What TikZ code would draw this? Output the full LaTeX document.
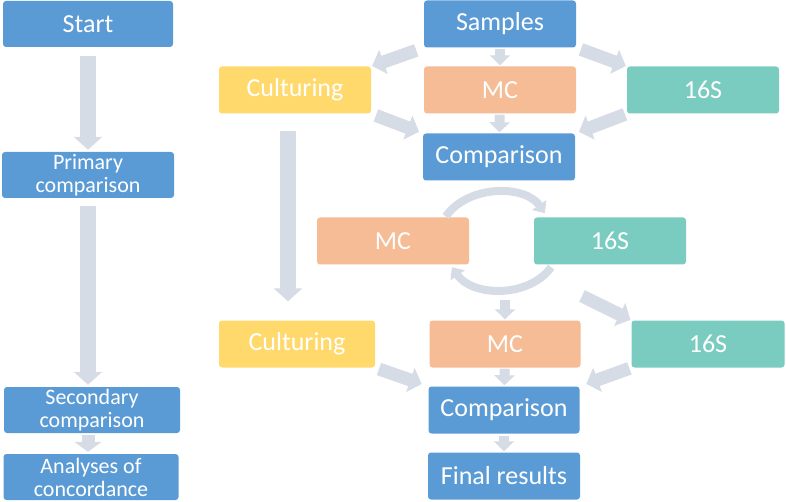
\documentclass[tikz,border=0pt]{standalone}
\usepackage{fontspec}
\setmainfont{Carlito}
\usetikzlibrary{arrows.meta}

\definecolor{boxblue}{HTML}{5B9BD5}
\definecolor{boxorange}{HTML}{F5BC95}
\definecolor{boxteal}{HTML}{7ACCC0}
\definecolor{boxyellow}{HTML}{FFD96C}
\definecolor{arrowgray}{HTML}{D6DCE5}

\begin{document}
\begin{tikzpicture}[x=1pt,y=-1pt]
	\tikzstyle{box} = [rectangle, rounded corners=3pt, minimum width=152pt, minimum height=47pt, inner sep=0pt, text=white, align=center, font=\fontsize{26}{28}\selectfont]
	\tikzstyle{side_box} = [box, fill=boxblue, minimum width=172pt, minimum height=46pt, font=\fontsize{22}{23}\selectfont]
	\tikzstyle{fat_arrow} = [draw=arrowgray, line width=16pt, -{Triangle[length=13pt,width=28pt]}]
	\tikzstyle{diag_arrow} = [draw=arrowgray, line width=13pt, -{Triangle[length=12pt,width=25pt]}]
	\tikzstyle{small_arrow} = [draw=arrowgray, line width=10pt, -{Triangle[length=10pt,width=20pt]}]
	\tikzstyle{curve_arrow} = [draw=arrowgray, line width=8pt, -{Triangle[length=10pt,width=17pt]}]

	\useasboundingbox (0,0) rectangle (786,502);

	% Left column
	\node (S) [side_box, minimum width=170pt, font=\fontsize{26}{28}\selectfont] at (88,24) {Start};
	\node (PC) [side_box] at (88,175) {Primary\\comparison};
	\node (SC) [side_box, minimum width=176pt] at (92,410) {Secondary\\comparison};
	\node (AC) [side_box, minimum width=175pt] at (91,477) {Analyses of\\concordance};

	% First round
	\node (SA) [box, fill=boxblue] at (500,24) {Samples};
	\node (CU1) [box, fill=boxyellow] at (295,90) {Culturing};
	\node (MC1) [box, fill=boxorange] at (500,90) {MC};
	\node (RS1) [box, fill=boxteal] at (703,90) {16S};
	\node (CO1) [box, fill=boxblue] at (499,157) {Comparison};

	% Discordant samples
	\node (MC2) [box, fill=boxorange] at (393,241) {MC};
	\node (RS2) [box, fill=boxteal] at (610,241) {16S};
	\coordinate (L1) at (505,300);
	\coordinate (L2) at (582,296);

	% Second round
	\node (CU2) [box, fill=boxyellow, minimum width=156pt] at (297,344) {Culturing};
	\node (MC3) [box, fill=boxorange, minimum width=151pt] at (505,344) {MC};
	\node (RS3) [box, fill=boxteal, minimum width=153pt] at (708,344) {16S};
	\node (CO2) [box, fill=boxblue, minimum width=151pt] at (504,410) {Comparison};
	\node (FR) [box, fill=boxblue] at (504,476) {Final results};

	% Arrows of the left column
	\draw[fat_arrow, shorten <=9pt, shorten >=2pt] (S) -- (PC);
	\draw[fat_arrow, shorten <=8pt, shorten >=2pt] (PC) -- (PC |- SC.north);
	\draw[small_arrow, line width=13pt, -{Triangle[length=10pt,width=27pt]}, shorten <=2pt, shorten >=2pt] (PC |- SC.south) -- (PC |- AC.north);

	% Arrows of the first round
	\draw[diag_arrow, shorten <=8pt, shorten >=1pt] (SA.south west) -- (CU1.north east);
	\draw[small_arrow, shorten <=1pt, shorten >=1pt] (SA) -- (MC1);
	\draw[diag_arrow, shorten <=5pt, shorten >=1pt] (SA.south east) -- (RS1.north west);
	\draw[diag_arrow, shorten <=5pt, shorten >=4pt] (CU1.south east) -- (CO1.north west);
	\draw[small_arrow, shorten <=1pt, shorten >=1pt] (MC1) -- (CO1);
	\draw[diag_arrow, shorten <=2pt, shorten >=4pt] (RS1.south west) -- (CO1.north east);
	\draw[fat_arrow, shorten <=17pt, shorten >=19pt] ([xshift=-7pt]CU1.south) -- ([xshift=-7pt]CU1.south |- CU2.north);

	% Loop between MC and 16S
	\draw[curve_arrow, shorten <=1pt, shorten >=5pt] ([xshift=-24pt]MC2.north east) to[out=55,in=125] ([xshift=14pt]RS2.north west);
	\draw[curve_arrow, shorten <=3pt, shorten >=3pt] ([xshift=19pt]RS2.south west) to[out=-125,in=-55] ([xshift=-19pt]MC2.south east);
	\draw[small_arrow, shorten >=1pt] (L1) -- (MC3);
	\draw[diag_arrow, shorten >=1pt] (L2) -- (RS3.north west);

	% Arrows of the second round
	\draw[diag_arrow, shorten <=4pt, shorten >=7pt] (CU2.south east) -- (CO2.north west);
	\draw[small_arrow, shorten <=1pt, shorten >=1pt] (MC3) -- (CO2);
	\draw[diag_arrow, shorten <=2pt, shorten >=7pt] (RS3.south west) -- (CO2.north east);
	\draw[small_arrow, shorten <=2pt, shorten >=1pt] (CO2) -- (FR);
\end{tikzpicture}
\end{document}
